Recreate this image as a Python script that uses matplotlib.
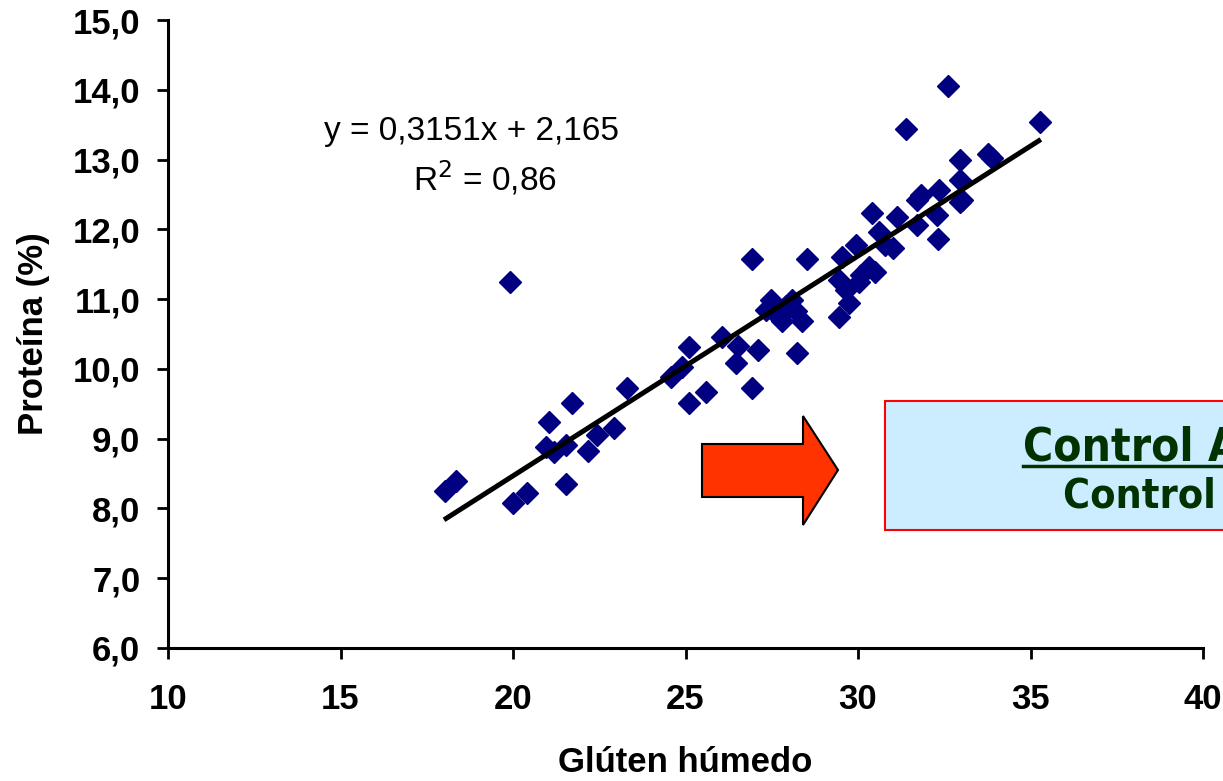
import matplotlib
matplotlib.use("Agg")
import matplotlib.pyplot as plt
from matplotlib.patches import Polygon, Rectangle

# Wet gluten (x) vs protein content (y) for each sample
gluten = [18.02, 18.36, 19.90, 19.99, 20.40, 21.04, 21.70, 20.95, 21.18, 21.53,
          21.53, 22.17, 22.43, 22.92, 23.30, 24.58, 24.90, 25.10, 25.10, 25.60,
          26.06, 26.47, 26.53, 26.93, 26.93, 27.11, 28.24, 28.53,
          27.48, 27.34, 27.72, 27.92, 28.09, 28.21, 28.38, 27.80,
          29.55, 29.95, 30.62, 30.42, 31.12, 31.00, 31.70, 32.28, 32.31, 32.95,
          30.33, 30.10, 29.46, 30.04, 29.66, 29.75, 29.46, 30.48, 30.77,
          32.60, 31.38, 35.27, 32.97, 33.76, 33.87, 32.95, 31.84, 32.36, 33.00,
          31.72]
protein = [8.25, 8.40, 11.25, 8.08, 8.22, 9.24, 9.51, 8.88, 8.81, 8.91,
           8.35, 8.83, 9.05, 9.15, 9.73, 9.89, 10.03, 10.32, 9.51, 9.67,
           10.46, 10.09, 10.33, 9.73, 11.58, 10.27, 10.23, 11.58,
           10.99, 10.85, 10.75, 10.90, 10.99, 10.83, 10.68, 10.68,
           11.60, 11.78, 11.96, 12.23, 12.18, 11.73, 12.06, 12.21, 11.86, 12.39,
           11.46, 11.35, 11.28, 11.25, 11.13, 10.95, 10.74, 11.39, 11.78,
           14.05, 13.44, 13.54, 12.99, 13.08, 13.02, 12.71, 12.49, 12.56, 12.42,
           12.42]

# Linear fit shown on the chart
slope = 0.3151
intercept = 2.165
r_squared = 0.86
fit_range = [18.0, 35.3]

x_ticks = [10, 15, 20, 25, 30, 35, 40]
y_ticks = [6.0, 7.0, 8.0, 9.0, 10.0, 11.0, 12.0, 13.0, 14.0, 15.0]

W, H = 1223, 781
fig = plt.figure(figsize=(W / 100, H / 100), dpi=100)
fig.patch.set_facecolor("white")
ax = fig.add_axes([168 / W, 1 - 648 / H, (1203 - 168) / W, (648 - 20) / H])

ax.plot(gluten, protein, linestyle="none", marker="D", markersize=11,
        color="#000080", markeredgecolor="#000080", zorder=3)
fit_y = [slope * v + intercept for v in fit_range]
ax.plot(fit_range, fit_y, color="black", linewidth=3.6, solid_capstyle="butt", zorder=4)

ax.set_xlim(10, 40)
ax.set_ylim(6, 15)
ax.set_xticks(x_ticks)
ax.set_yticks(y_ticks)
ax.set_xticklabels([str(v) for v in x_ticks])
ax.set_yticklabels([f"{v:.1f}".replace(".", ",") for v in y_ticks])

font = "Liberation Sans"
for lab in ax.get_xticklabels() + ax.get_yticklabels():
    lab.set_fontfamily(font)
    lab.set_fontweight("bold")
    lab.set_fontsize(25)

for side in ("top", "right"):
    ax.spines[side].set_visible(False)
for side in ("left", "bottom"):
    ax.spines[side].set_linewidth(2.2)
    ax.spines[side].set_color("black")
ax.tick_params(axis="both", direction="out", length=8, width=2, color="black")
ax.tick_params(axis="x", pad=17)
ax.tick_params(axis="y", pad=12)

ax.set_xlabel("Glúten húmedo", fontfamily=font, fontweight="bold", fontsize=25, labelpad=22)
ax.set_ylabel("Proteína (%)", fontfamily=font, fontweight="bold", fontsize=25, labelpad=16)

eq = f"y = {slope:.4f}x + {intercept:.3f}".replace(".", ",")
ax.text(18.8, 13.40, eq, fontfamily=font, fontsize=24, ha="center", va="center")
ax.text(19.2, 12.74, "R$^2$ = " + f"{r_squared:.2f}".replace(".", ","),
        fontfamily=font, fontsize=24, ha="center", va="center")

# Arrow and highlighted note box, drawn in figure pixel coordinates
def px(x, y):
    return (x / W, 1 - y / H)

arrow = Polygon([px(702, 444), px(803, 444), px(803, 416), px(838, 470),
                 px(803, 525), px(803, 497), px(702, 497)], closed=True,
                facecolor="#FF3300", edgecolor="black", linewidth=1.5,
                transform=fig.transFigure, zorder=5)
fig.patches.append(arrow)

bx0, by0 = px(885, 530)
box = Rectangle((bx0, by0), (1240 - 885) / W, (530 - 401) / H,
                facecolor="#CCECFF", edgecolor="#FF0000", linewidth=1.5,
                transform=fig.transFigure, zorder=5)
fig.patches.append(box)

box_font = "DejaVu Sans"
fig.text(1023 / W, 1 - 460 / H, "Control Analítico", fontfamily=box_font,
         fontweight="bold", fontstretch="condensed", fontsize=33, color="#003300",
         ha="left", va="baseline", zorder=6)
fig.add_artist(plt.Line2D([1023 / W, 1.0], [1 - 466 / H, 1 - 466 / H],
                          color="#003300", linewidth=2.5, transform=fig.transFigure,
                          zorder=6))
fig.text(1063 / W, 1 - 508 / H, "Control de Calidad", fontfamily=box_font,
         fontweight="bold", fontstretch="condensed", fontsize=29.5, color="#003300",
         ha="left", va="baseline", zorder=6)

fig.savefig("out.png", dpi=100)
